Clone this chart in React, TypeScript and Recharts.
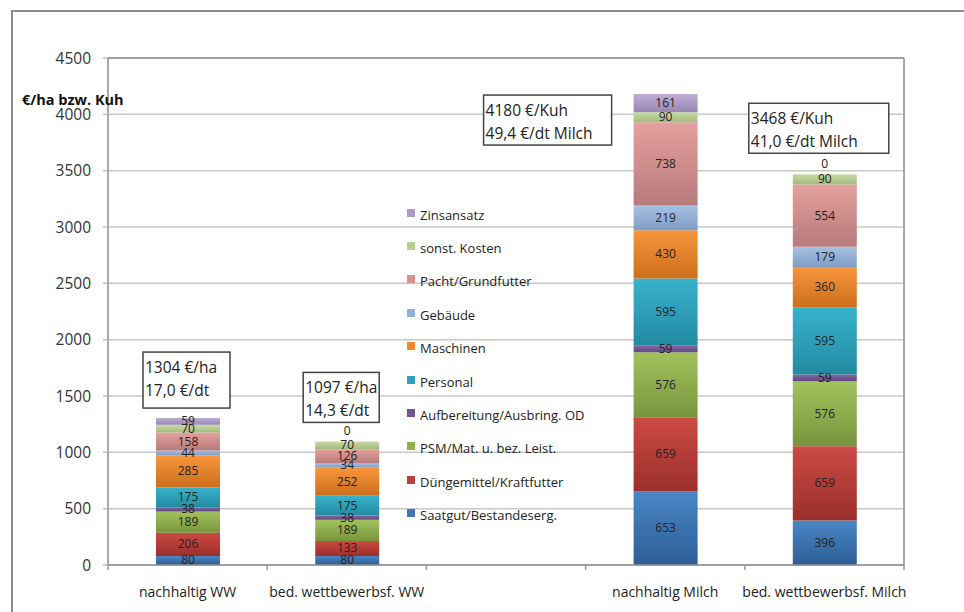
import React from 'react';
import {
  BarChart,
  Bar,
  XAxis,
  YAxis,
  CartesianGrid,
  Legend,
  LabelList,
  ReferenceLine,
} from 'recharts';

const categories = ['nachhaltig WW', 'bed. wettbewerbsf. WW', '', 'nachhaltig Milch', 'bed. wettbewerbsf. Milch'];

// bottom to top of each stack
const saatgut = [80, 80, 0, 653, 396];
const duenger = [206, 133, 0, 659, 659];
const psm = [189, 189, 0, 576, 576];
const aufbereitung = [38, 38, 0, 59, 59];
const personal = [175, 175, 0, 595, 595];
const maschinen = [285, 252, 0, 430, 360];
const gebaeude = [44, 34, 0, 219, 179];
const pacht = [158, 126, 0, 738, 554];
const sonstige = [70, 70, 0, 90, 90];
const zinsansatz = [59, 0, 0, 161, 0];

const boxLines = [
  ['1304 €/ha', '17,0 €/dt'],
  ['1097 €/ha', '14,3 €/dt'],
  null,
  ['4180 €/Kuh', '49,4 €/dt Milch'],
  ['3468 €/Kuh', '41,0 €/dt Milch'],
];

const yTicks = [0, 500, 1000, 1500, 2000, 2500, 3000, 3500, 4000, 4500];

const SERIES = [
  { key: 'saatgut', name: 'Saatgut/Bestandeserg.', values: saatgut, top: '#4a86c6', bottom: '#2c5e95', swatch: '#3d77b6' },
  { key: 'duenger', name: 'Düngemittel/Kraftfutter', values: duenger, top: '#cc4a44', bottom: '#9b2f2b', swatch: '#be3f39' },
  { key: 'psm', name: 'PSM/Mat. u. bez. Leist.', values: psm, top: '#a2c25d', bottom: '#78953d', swatch: '#8fb04b' },
  { key: 'aufb', name: 'Aufbereitung/Ausbring. OD', values: aufbereitung, top: '#8467a6', bottom: '#5e4680', swatch: '#6f5594' },
  { key: 'personal', name: 'Personal', values: personal, top: '#37b3cc', bottom: '#238aa1', swatch: '#2fa3bd' },
  { key: 'maschinen', name: 'Maschinen', values: maschinen, top: '#f7963a', bottom: '#cc6e1c', swatch: '#ee8a2d' },
  { key: 'gebaeude', name: 'Gebäude', values: gebaeude, top: '#a7c1e2', bottom: '#7f9cc4', swatch: '#93b0d6' },
  { key: 'pacht', name: 'Pacht/Grundfutter', values: pacht, top: '#e4a09e', bottom: '#b67b7a', swatch: '#da9290' },
  { key: 'sonst', name: 'sonst. Kosten', values: sonstige, top: '#c8dba4', bottom: '#a3ba7c', swatch: '#b8cd90' },
  { key: 'zins', name: 'Zinsansatz', values: zinsansatz, top: '#bcaed3', bottom: '#9886b4', swatch: '#ab9bc6' },
];

// box placement relative to the top of each stack (layout only)
const boxLayout = [
  { dx: -13, dy: -66, w: 87, h: 56 },
  { dx: -12, dy: -69, w: 76, h: 50 },
  null,
  { dx: -150, dy: 1, w: 128, h: 50 },
  { dx: -44, dy: -71, w: 140, h: 50 },
];

const data = categories.map((name, i) => {
  const row: any = { name };
  SERIES.forEach(s => {
    row[s.key] = s.values[i];
  });
  return row;
});

const FONT = '"Open Sans", "Noto Sans", sans-serif';
const realIdx = categories.map((c, i) => (c ? i : -1)).filter(i => i >= 0);
const X_TICK_GAP = 22;

const ValueLabel = (props: any) => {
  const { x, y, width, height, value } = props;
  if (!value) return null;
  return (
    <text
      x={Number(x) + Number(width) / 2}
      y={Number(y) + Number(height) / 2}
      dy={4}
      textAnchor="middle"
      fontSize={12}
      fill="#222"
      fontFamily={FONT}
    >
      {value}
    </text>
  );
};

// drawn from the "sonst. Kosten" segment, which is present in every real stack
const TotalBox = (props: any) => {
  const { x, y, width, height, value, index } = props;
  let i = categories.indexOf(value);
  if (i < 0 || value === '') i = realIdx[index] ?? -1;
  if (i < 0) return null;
  const lines = boxLines[i];
  const lay = boxLayout[i];
  if (!lines || !lay) return null;
  const pxPerUnit = Number(height) / sonstige[i];
  const topY = Number(y) - zinsansatz[i] * pxPerUnit;
  const bx = Number(x) + lay.dx;
  const by = topY + lay.dy;
  return (
    <g>
      {zinsansatz[i] === 0 && (
        <text x={Number(x) + Number(width) / 2} y={topY - 6} textAnchor="middle" fontSize={12} fill="#222" fontFamily={FONT}>
          0
        </text>
      )}
      <rect x={bx} y={by} width={lay.w} height={lay.h} fill="#fff" stroke="#444" strokeWidth={1.5} />
      <text x={bx + 2} y={by + 21} fontSize={15.5} fill="#222" fontFamily={FONT}>{lines[0]}</text>
      <text x={bx + 2} y={by + 44} fontSize={15.5} fill="#222" fontFamily={FONT}>{lines[1]}</text>
    </g>
  );
};

// category label plus Excel-style tick marks on the category boundaries
const CategoryTick = (props: any) => {
  const { x, y, payload, index } = props;
  const half = payload?.offset ?? 0;
  const axisY = Number(y) - X_TICK_GAP;
  return (
    <g>
      <line x1={x - half} x2={x - half} y1={axisY} y2={axisY + 5} stroke="#9a9a9a" strokeWidth={1.5} />
      {index === categories.length - 1 && (
        <line x1={x + half} x2={x + half} y1={axisY} y2={axisY + 5} stroke="#9a9a9a" strokeWidth={1.5} />
      )}
      <text x={x} y={y} dy="0.71em" textAnchor="middle" fontSize={14} fill="#222" fontFamily={FONT}>
        {payload?.value}
      </text>
    </g>
  );
};

const LegendBox = () => (
  <div style={{ fontFamily: FONT, fontSize: 13, color: '#222' }}>
    {[...SERIES].reverse().map(s => (
      <div key={s.key} style={{ height: 33.4, display: 'flex', alignItems: 'center', whiteSpace: 'nowrap' }}>
        <span style={{ width: 8, height: 8, background: s.swatch, display: 'inline-block', marginRight: 5, marginTop: -4 }} />
        <span>{s.name}</span>
      </div>
    ))}
  </div>
);

const YTitle = (props: any) => {
  const vb = props.viewBox || { x: 0, y: 58 };
  return (
    <text x={vb.x + 22} y={vb.y + 47} fontSize={14.5} fontWeight="bold" fill="#111" fontFamily={FONT}>
      €/ha bzw. Kuh
    </text>
  );
};

export default function App() {
  return (
    <div style={{ position: 'absolute', left: 0, top: 0, width: 964, height: 612, overflow: 'hidden', background: '#fff' }}>
      <div
        style={{
          position: 'absolute',
          left: 11,
          top: 10,
          width: 1100,
          height: 800,
          borderLeft: '2px solid #8e8e8e',
          borderTop: '2px solid #8e8e8e',
        }}
      />
      <div style={{ position: 'absolute', left: 0, top: 0 }}>
        <BarChart
          width={964}
          height={612}
          data={data}
          margin={{ top: 58, right: 0, bottom: 0, left: 0 }}
          style={{ fontFamily: FONT }}
        >
          <defs>
            {SERIES.map(s => (
              <linearGradient key={s.key} id={`grad-${s.key}`} x1="0" y1="0" x2="0" y2="1">
                <stop offset="0%" stopColor={s.top} />
                <stop offset="100%" stopColor={s.bottom} />
              </linearGradient>
            ))}
          </defs>
          <CartesianGrid vertical={false} stroke="#c8c8c8" strokeWidth={1.5} />
          <XAxis
            dataKey="name"
            height={47}
            axisLine={{ stroke: '#8e8e8e', strokeWidth: 1.5 }}
            tickLine={false}
            tickSize={0}
            tickMargin={X_TICK_GAP}
            tick={<CategoryTick />}
            interval={0}
          />
          <YAxis
            domain={[0, 4500]}
            ticks={yTicks}
            width={108}
            tickSize={5}
            tickMargin={12}
            axisLine={{ stroke: '#8e8e8e', strokeWidth: 1.5 }}
            tickLine={{ stroke: '#bdbdbd', strokeWidth: 1.5 }}
            tick={{ fill: '#333', fontSize: 15.5 }}
            label={{ content: <YTitle /> }}
          />
          <YAxis
            yAxisId="r"
            orientation="right"
            width={60}
            tick={false}
            tickLine={false}
            axisLine={{ stroke: '#8e8e8e', strokeWidth: 1.5 }}
          />
          <ReferenceLine y={4500} stroke="#8e8e8e" strokeWidth={1.5} />
          <Legend
            layout="vertical"
            align="center"
            verticalAlign="middle"
            wrapperStyle={{ left: 407, top: 198, width: 200 }}
            content={<LegendBox />}
          />
          {SERIES.map(s => (
            <Bar
              key={s.key}
              dataKey={s.key}
              name={s.name}
              stackId="a"
              barSize={64}
              fill={`url(#grad-${s.key})`}
              isAnimationActive={false}
            >
              <LabelList dataKey={s.key} content={<ValueLabel />} />
              {s.key === 'sonst' && <LabelList dataKey="name" content={<TotalBox />} />}
            </Bar>
          ))}
        </BarChart>
      </div>
    </div>
  );
}
